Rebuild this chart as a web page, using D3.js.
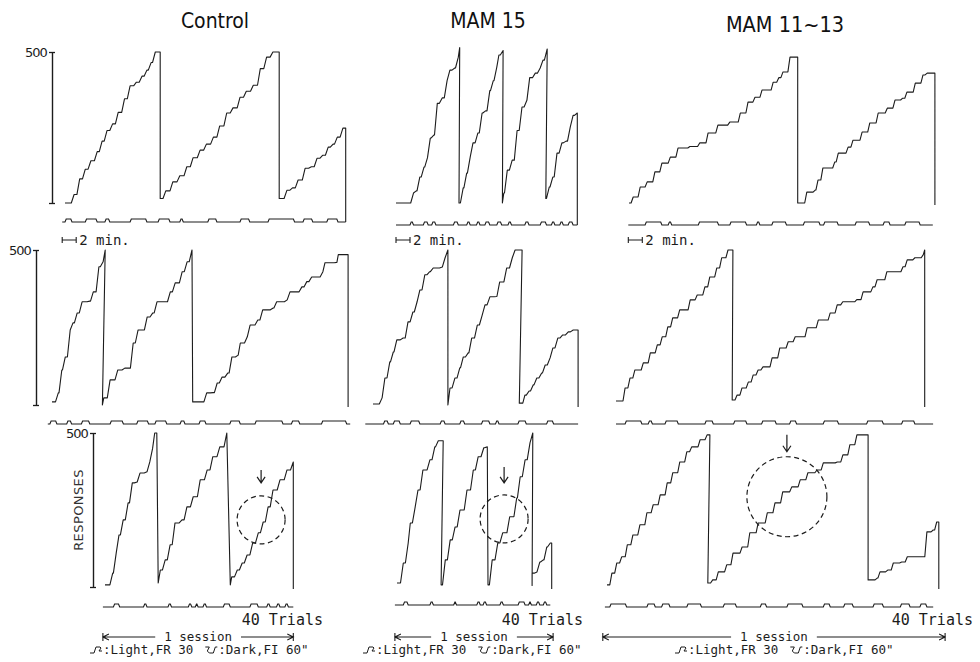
<!DOCTYPE html>
<html>
<head>
<meta charset="utf-8">
<script src="https://cdnjs.cloudflare.com/ajax/libs/d3/7.8.5/d3.min.js"></script>
<style>
  body { margin: 0; background: #fff; }
  svg { display: block; }
</style>
</head>
<body>
<svg></svg>
<script>
// Group names and the only tick values on the response axis
let groups = ["Control", "MAM 15", "MAM 11~13"]
let yTicks = [0, 500]

// Cumulative records.
// Each record = list of pen segments (pen resets at the top),
// each point = [minutes from session start, cumulative responses] at a step corner
let control1 = [
    [[0,0],[1.3,28],[2.1,80],[2.9,112],[3.7,140],[4.6,170],[5.3,205],[6.0,240],[6.8,262],[7.6,300],[8.5,345],[9.3,388],[10.2,400],[11.0,420],[11.7,440],[12.3,465],[12.9,500],[13.6,500]],
    [[13.6,15],[14.4,40],[15.4,70],[16.4,90],[17.4,120],[18.3,150],[19.3,175],[20.2,195],[21.2,218],[22.1,255],[23.1,298],[24.0,315],[25.0,350],[25.9,370],[26.9,390],[27.9,445],[28.8,483],[29.7,500],[30.6,500]],
    [[30.6,15],[31.7,42],[32.5,50],[33.3,76],[34.3,115],[35.2,120],[36.0,148],[36.8,158],[37.6,185],[38.3,195],[38.9,218],[39.7,248],[40.1,248]]
]
let mam15_1 = [
    [[0,0],[2.1,0],[2.5,33],[2.9,40],[3.4,86],[4.0,119],[4.5,150],[4.9,215],[5.4,225],[5.9,330],[6.6,348],[7.3,405],[7.7,440],[8.4,447],[8.9,483],[9.1,515]],
    [[9.0,0],[9.6,50],[10.1,99],[10.6,152],[11.0,199],[11.7,232],[12.3,298],[12.8,305],[13.4,372],[13.9,405],[14.4,450],[14.7,490],[15.3,505]],
    [[15.2,0],[15.4,33],[15.9,109],[16.6,142],[17.3,240],[18.0,318],[18.7,340],[19.1,415],[19.9,430],[20.6,447],[21.0,473],[21.6,510]],
    [[21.4,15],[21.9,53],[22.4,86],[23.0,165],[23.7,199],[24.3,205],[24.9,252],[25.3,290],[25.9,298]]
]
let mam11_1 = [
    [[0,0],[0.6,20],[1.6,53],[2.6,70],[3.7,103],[4.7,132],[5.9,152],[7.0,182],[8.7,187],[10.1,199],[11.3,232],[12.7,258],[14.4,268],[15.9,298],[17.0,334],[18.0,350],[19.0,374],[20.6,400],[21.4,415],[22.0,434],[23.0,483],[24.1,483]],
    [[24.1,0],[25.4,36],[26.6,43],[27.0,76],[27.7,116],[29.4,136],[29.9,165],[31.3,185],[32.0,208],[33.3,235],[34.4,265],[35.6,298],[36.9,314],[38.0,341],[39.1,347],[39.7,367],[40.9,397],[42.0,424],[42.6,430],[43.7,430]]
]
let control2 = [
    [[0,10],[0.4,10],[0.9,39],[1.4,113],[1.9,155],[2.6,242],[3.0,265],[3.6,297],[4.3,333],[5.4,335],[5.9,365],[6.7,446],[7.3,462],[7.6,500]],
    [[7.2,0],[7.4,23],[8.3,81],[9.0,81],[9.4,113],[10.4,119],[11.6,200],[12.3,242],[13.0,242],[13.6,284],[14.4,297],[15.0,333],[16.4,333],[16.9,365],[17.6,394],[18.6,430],[19.3,462],[20.0,500]],
    [[20.1,10],[21.6,10],[22.1,39],[23.0,40],[23.6,71],[24.3,90],[25.1,103],[25.7,155],[26.6,161],[26.9,200],[27.9,220],[28.3,258],[29.4,274],[30.1,307],[31.6,313],[32.1,333],[33.6,339],[34.0,365],[35.7,381],[36.4,398],[37.1,413],[38.7,430],[39.0,459],[40.7,460],[40.9,485],[42.3,485]]
]
let mam15_2 = [
    [[0,3],[0.7,3],[1.3,23],[1.7,87],[2.4,139],[2.9,171],[3.4,210],[4.3,216],[5.0,268],[5.7,300],[6.3,333],[6.7,371],[7.4,420],[8.1,430],[8.6,442],[9.9,445],[10.3,475],[10.7,500]],
    [[10.7,0],[11.0,55],[11.7,87],[12.4,120],[12.9,155],[13.6,168],[14.1,216],[14.9,258],[15.6,290],[16.0,323],[16.7,349],[17.7,350],[18.1,397],[19.1,442],[19.9,475],[20.3,500],[21.3,500]],
    [[20.9,6],[21.4,6],[21.7,32],[22.3,45],[22.9,65],[23.4,87],[24.1,103],[24.6,129],[25.3,152],[25.7,184],[26.4,216],[27.1,226],[27.9,236],[28.6,242],[29.3,242]]
]
let mam11_2 = [
    [[0,13],[0.8,13],[1.3,55],[2.0,87],[2.7,113],[3.9,136],[4.9,168],[5.9,194],[6.6,220],[7.4,252],[8.1,281],[9.1,307],[10.6,339],[11.6,355],[12.7,381],[13.4,413],[14.4,442],[15.1,475],[16.0,500],[16.7,500]],
    [[16.6,16],[17.3,32],[18.0,55],[18.9,74],[19.6,97],[20.3,113],[21.0,123],[22.3,152],[23.4,184],[24.6,204],[25.6,220],[27.3,249],[28.9,274],[30.6,297],[31.6,323],[32.4,333],[34.4,340],[35.3,365],[36.7,381],[37.3,404],[38.7,430],[41.0,446],[41.6,468],[42.7,475],[43.9,485],[44.1,500]]
]
let control3 = [
    [[0,7],[0.7,7],[1.1,45],[1.6,110],[2.0,169],[2.6,218],[3.3,273],[3.9,338],[4.6,341],[5.0,370],[6.0,374],[6.4,406],[6.8,450],[7.1,500],[7.4,500]],
    [[7.6,13],[7.9,55],[8.6,88],[9.3,137],[10.0,208],[11.0,218],[11.7,260],[12.6,293],[13.6,348],[14.6,380],[15.4,423],[16.4,455],[17.4,500]],
    [[17.9,7],[18.1,33],[18.9,55],[19.6,78],[20.3,104],[21.1,143],[21.9,176],[22.6,211],[23.3,260],[24.0,315],[25.0,348],[26.0,380],[26.9,406]]
]
let mam15_3 = [
    [[0,13],[0.4,13],[0.9,78],[1.6,143],[1.9,208],[2.6,260],[3.0,315],[3.7,380],[4.7,413],[5.4,455],[5.9,475],[6.6,475]],
    [[6.3,7],[6.9,88],[7.6,153],[8.3,195],[9.0,250],[10.0,315],[10.9,380],[11.6,423],[12.4,452],[12.9,455]],
    [[13.0,7],[13.6,88],[14.4,143],[15.1,176],[16.1,228],[17.1,289],[17.6,358],[18.3,413],[19.0,468],[19.4,500]],
    [[19.3,5],[19.3,45],[20.0,49],[20.4,81],[20.9,88],[21.4,130],[21.9,143],[22.1,143]]
]
let mam11_3 = [
    [[0,7],[0.7,45],[1.4,78],[2.1,98],[2.9,137],[3.7,169],[4.7,202],[5.7,241],[6.6,267],[7.6,299],[8.6,338],[9.4,371],[10.4,406],[11.4,439],[12.1,455],[13.3,478],[14.3,494],[14.7,494]],
    [[14.4,13],[15.1,23],[15.9,49],[17.1,72],[18.0,110],[19.3,130],[20.4,176],[21.6,208],[22.9,241],[24.0,273],[25.1,309],[26.4,325],[27.6,348],[28.7,371],[30.0,380],[30.9,403],[32.9,406],[33.7,429],[34.7,462],[35.7,494],[37.3,494]],
    [[37.3,23],[38.6,29],[39.0,49],[40.1,55],[40.9,78],[42.1,81],[42.9,98],[44.7,98],[45.7,179],[46.6,185],[47.1,211],[47.4,211]]
]

// Event pen: [start, end] minutes of each raised stretch, and the span of the trace
let control1Light = [[0,1.0],[2.9,4.6],[5.7,6.4],[9.3,11.7],[13.3,15.0],[16.4,16.9],[20.4,21.7],[25.0,26.4],[29.0,32.8],[34.0,35.4],[37.4,39.0]]
let mam15_1Light = [[2.0,2.5],[3.9,4.6],[5.1,5.7],[8.2,8.9],[10.1,10.6],[11.5,12.0],[12.7,13.4],[14.4,15.1],[16.0,16.5],[18.4,19.0],[20.6,21.5],[22.2,22.7],[23.4,23.9],[24.6,25.3]]
let mam11_1Light = [[2.3,4.7],[5.6,6.1],[9.9,12.8],[14.4,16.8],[18.2,18.7],[20.4,22.5],[24.9,27.3],[27.8,29.9],[32.3,34.4],[36.3,37.3],[39.4,41.6]]
let control2Light = [[-0.3,0.7],[2.1,2.8],[4.2,5.4],[8.3,10.2],[12.1,13.8],[14.7,16.4],[18.3,19.0],[21.0,22.0],[25.4,26.9],[29.0,33.0],[34.2,35.4],[38.5,42.1]]
let mam15_2Light = [[1.5,2.2],[2.9,3.9],[5.3,6.7],[9.6,10.3],[12.4,13.1],[15.5,16.7],[17.5,18.0],[20.7,21.9],[24.8,25.8]]
let mam11_2Light = [[1.3,3.7],[4.6,5.2],[7.0,8.9],[12.7,13.9],[16.8,18.7],[20.8,22.9],[24.8,25.8],[29.6,31.8],[35.8,38.2],[40.8,42.7]]
let control3Light = [[1.2,2.1],[5.5,6.0],[9.0,9.5],[11.9,12.4],[12.9,13.3],[14.0,14.5],[16.9,17.9],[20.7,21.9],[23.1,23.6],[24.5,25.0],[25.7,26.2]]
let mam15_3Light = [[0.9,1.6],[4.7,5.2],[8.1,8.5],[11.4,11.9],[12.3,12.8],[14.7,15.2],[17.3,18.3],[18.8,19.2],[19.9,20.4],[20.9,21.4]]
let mam11_3Light = [[0.4,2.8],[5.7,6.9],[7.8,9.0],[11.4,13.5],[16.6,18.5],[21.9,22.8],[25.7,28.0],[30.9,31.9],[33.8,35.2],[38.0,39.5],[41.9,43.3],[44.7,45.7]]

let eventSpans = [
    [[-0.4, 40.1], [0, 25.9], [-0.1, 43.4]],
    [[-0.6, 42.6], [-1.1, 29.3], [0, 45.3]],
    [[-0.3, 26.9], [-0.3, 21.9], [-0.3, 46.6]]
]
let sessionSpans = [[-0.3, 26.9], [-0.3, 22.3], [-0.6, 48.3]]

// circled region in the last row: centre [min, responses], radius px, arrow from/to responses
let marked = [
    { t: 22.3, r: 218, rad: 24, arrow: [380, 338] },
    { t: 15.3, r: 221, rad: 24, arrow: [390, 338] },
    { t: 25.7, r: 293, rad: 40, arrow: [494, 439] }
]

let records = [[control1, mam15_1, mam11_1], [control2, mam15_2, mam11_2], [control3, mam15_3, mam11_3]]
let lights = [[control1Light, mam15_1Light, mam11_1Light], [control2Light, mam15_2Light, mam11_2Light], [control3Light, mam15_3Light, mam11_3Light]]
let runMin = [0.4, 0.4, 0.3]

// layout
let width = 980
let height = 662
let pxPerMin = 7
let rowY = [[203, 52], [405, 250], [587, 433]]
let startX = [[65, 396, 629], [52, 373, 616], [105, 397, 607]]
let eventY = [[222, 225, 225], [424, 424, 424], [607, 605, 607]]
let axisX = [52, 36, 93]
let tails = [["event", "event", "zero"], ["zero", "zero", "zero"], ["zero", "zero", "zero"]]
let titleX = [215, 488, 785]
let titleY = [28, 28, 32]
let titleSize = [21, 21, 21.5]
let trialsX = [323, 583, 973]
let legendX = [90, 363, 675]

let ink = "#1c1c1c"
let mono = "'DejaVu Sans Mono', monospace"
let narrow = "'Liberation Sans Narrow', 'DejaVu Sans Condensed', sans-serif"

let svg = d3.select("svg")

let drawCanvas = () => {
    svg.attr("width", width)
    svg.attr("height", height)
    svg.append("rect").attr("width", width).attr("height", height).attr("fill", "#fff")
}

// turns the step corners into a staircase: flat, then a short run up to the corner
let buildRecord = (segs, x, y, run) => {
    let pts = []
    segs.forEach(seg => {
        seg.forEach((d, i) => {
            let prev = seg[i - 1]
            if (prev && d[0] - prev[0] > run && d[1] !== prev[1]) pts.push([x(d[0] - run), y(prev[1])])
            pts.push([x(d[0]), y(d[1])])
        })
    })
    return pts
}

let buildEvent = (light, span, x, base) => {
    let pts = [[x(span[0]), base]]
    light.forEach(d => {
        pts.push([x(d[0]), base], [x(d[0]) + 1.2, base - 3], [x(d[1]) - 1.2, base - 3], [x(d[1]), base])
    })
    pts.push([x(span[1]), base])
    return pts
}

let line = d3.line()

let drawPanels = () => {
    records.forEach((row, r) => {
        let y = d3.scaleLinear().domain([0, 500]).range(rowY[r])
        row.forEach((segs, c) => {
            let x0 = startX[r][c]
            let x = d3.scaleLinear().domain([0, 50]).range([x0, x0 + 50 * pxPerMin])

            let pts = buildRecord(segs, x, y, runMin[c])
            let last = pts[pts.length - 1]
            pts.push([last[0], tails[r][c] === "event" ? eventY[r][c] : y(0) + 2])

            svg.append("path")
                .attr("d", line(pts))
                .attr("fill", "none")
                .attr("stroke", ink)
                .attr("stroke-width", 1.1)
                .attr("stroke-linejoin", "round")

            svg.append("path")
                .attr("d", line(buildEvent(lights[r][c], eventSpans[r][c], x, eventY[r][c])))
                .attr("fill", "none")
                .attr("stroke", ink)
                .attr("stroke-width", 1.1)

            // 2 min scale bar under the first row
            if (r === 0) {
                let bx = x(eventSpans[0][c][0])
                let bw = x(2) - x(0)
                let by = 240
                svg.append("path")
                    .attr("d", `M${bx},${by - 3}V${by + 3}M${bx},${by}H${bx + bw}M${bx + bw},${by - 3}V${by + 3}`)
                    .attr("stroke", ink).attr("stroke-width", 1.1).attr("fill", "none")
                svg.append("text")
                    .attr("x", bx + bw + 3).attr("y", by + 5)
                    .attr("font-family", mono).attr("font-size", 14).attr("fill", ink)
                    .text("2 min.")
            }

            // last row: circled region, trials count, session arrow, legend
            if (r === 2) {
                let m = marked[c]
                svg.append("circle")
                    .attr("cx", x(m.t)).attr("cy", y(m.r)).attr("r", m.rad)
                    .attr("fill", "none").attr("stroke", ink).attr("stroke-width", 1.2)
                    .attr("stroke-dasharray", "5,3.5")
                let ax = x(m.t)
                let a1 = y(m.arrow[0]), a2 = y(m.arrow[1])
                svg.append("path")
                    .attr("d", `M${ax},${a1}V${a2}M${ax - 4},${a2 - 6}L${ax},${a2}L${ax + 4},${a2 - 6}`)
                    .attr("fill", "none").attr("stroke", ink).attr("stroke-width", 1.2)

                svg.append("text")
                    .attr("x", trialsX[c]).attr("y", 625)
                    .attr("text-anchor", "end")
                    .attr("font-family", mono).attr("font-size", 15).attr("fill", ink)
                    .text("40 Trials")

                drawSession(x, c)
                drawLegend(legendX[c])
            }
        })

        // response axis on the control column
        let yAxis = d3.axisLeft(y)
            .tickValues(yTicks)
            .tickSize(3)
            .tickSizeOuter(0)
            .tickPadding(2)
            .tickFormat(d => d === 500 ? "500" : "")
        let g = svg.append("g")
            .attr("transform", "translate(" + axisX[r] + ",0)")
            .call(yAxis)
        g.selectAll(".tick line").attr("x1", 3).attr("stroke", ink).attr("stroke-width", 1.3)
        g.select(".domain").attr("stroke", ink).attr("stroke-width", 1.4)
        g.selectAll(".tick text")
            .attr("fill", ink)
            .attr("font-family", "'DejaVu Sans', sans-serif")
            .attr("font-size", 13)
            .attr("letter-spacing", -0.9)
    })

    svg.append("text")
        .attr("transform", "translate(83,510) rotate(-90)")
        .attr("text-anchor", "middle")
        .attr("font-family", "'DejaVu Sans', sans-serif")
        .attr("font-size", 13)
        .attr("letter-spacing", 0.4)
        .attr("fill", "#333")
        .text("RESPONSES")
}

let drawSession = (x, c) => {
    let sy = 637
    let x1 = x(sessionSpans[c][0])
    let x2 = x(sessionSpans[c][1])
    let t = svg.append("text")
        .attr("x", (x1 + x2) / 2).attr("y", sy + 4)
        .attr("text-anchor", "middle")
        .attr("font-family", mono).attr("font-size", 12.5).attr("fill", ink)
        .text("1 session")
    let half = t.node().getComputedTextLength() / 2 + 9
    let mid = (x1 + x2) / 2
    svg.append("path")
        .attr("d", `M${x1},${sy - 4}V${sy + 4}M${x1},${sy}H${mid - half}M${mid + half},${sy}H${x2}M${x2},${sy - 4}V${sy + 4}` +
            `M${x1 + 6},${sy - 3}L${x1},${sy}L${x1 + 6},${sy + 3}M${x2 - 6},${sy - 3}L${x2},${sy}L${x2 - 6},${sy + 3}`)
        .attr("fill", "none").attr("stroke", ink).attr("stroke-width", 1.1)
}

// little event-pen glyphs followed by their meaning
let drawLegend = (lx) => {
    let ly = 650
    let g = svg.append("g").attr("transform", "translate(" + lx + "," + ly + ")")
    g.append("path")
        .attr("d", "M0,3H4L6,-3H10L11,-2L9,1L12,1")
        .attr("fill", "none").attr("stroke", ink).attr("stroke-width", 1)
    let t1 = g.append("text")
        .attr("x", 13).attr("y", 4)
        .attr("font-family", mono).attr("font-size", 12.5).attr("fill", ink)
        .text(":Light,FR 30")
    let x2 = 13 + t1.node().getComputedTextLength() + 12
    g.append("path")
        .attr("d", `M${x2},-3H${x2 + 4}L${x2 + 2},1L${x2 + 4},3H${x2 + 8}L${x2 + 10},-3H${x2 + 12}`)
        .attr("fill", "none").attr("stroke", ink).attr("stroke-width", 1)
    g.append("text")
        .attr("x", x2 + 13).attr("y", 4)
        .attr("font-family", mono).attr("font-size", 12.5).attr("fill", ink)
        .text(":Dark,FI 60\"")
}

let drawTitles = () => {
    svg.selectAll(".title")
        .data(groups)
        .enter()
        .append("text")
        .attr("class", "title")
        .attr("x", (d, i) => titleX[i])
        .attr("y", (d, i) => titleY[i])
        .attr("text-anchor", "middle")
        .attr("font-family", narrow)
        .attr("font-size", (d, i) => titleSize[i])
        .attr("fill", "#111")
        .text(d => d)
}

drawCanvas()
drawPanels()
drawTitles()
</script>
</body>
</html>
